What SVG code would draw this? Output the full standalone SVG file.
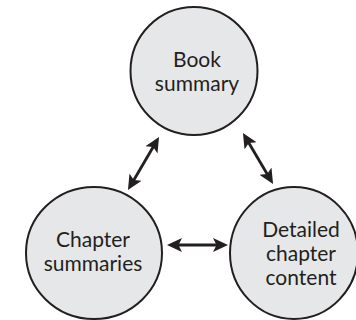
<svg xmlns="http://www.w3.org/2000/svg" width="356" height="320" viewBox="0 0 356 320">
  <style>
    .node { fill: #e6e7e8; stroke: #231f20; stroke-width: 2; }
    .label { font-family: "Lato", "Open Sans", "DejaVu Sans", sans-serif; font-size: 21px; fill: #231f20; text-anchor: middle; }
    .conn { stroke: #231f20; stroke-width: 2.8; fill: none; marker-start: url(#head); marker-end: url(#head); }
  </style>
  <defs>
    <marker id="head" markerUnits="userSpaceOnUse" markerWidth="15" markerHeight="15" refX="8" refY="7" orient="auto-start-reverse" viewBox="0 0 15 14">
      <path d="M0,0 L15,7 L0,14 L3.5,7 z" fill="#231f20"/>
    </marker>
  </defs>
  <rect width="356" height="320" fill="#ffffff"/>
  <g id="connectors">
    <line class="conn" x1="155.5" y1="143" x2="131.5" y2="184"/>
    <line class="conn" x1="246.5" y1="139" x2="269.5" y2="178"/>
    <line class="conn" x1="174" y1="245" x2="221" y2="245"/>
  </g>
  <g id="book-summary">
    <ellipse class="node" cx="194" cy="71" rx="63.5" ry="64"/>
    <text class="label" x="197" y="67">Book</text>
    <text class="label" x="197" y="91">summary</text>
  </g>
  <g id="chapter-summaries">
    <ellipse class="node" cx="94" cy="253" rx="68" ry="66"/>
    <text class="label" x="93" y="247">Chapter</text>
    <text class="label" x="93" y="271">summaries</text>
  </g>
  <g id="detailed-chapter-content">
    <ellipse class="node" cx="294" cy="253" rx="64" ry="66"/>
    <text class="label" x="301" y="237">Detailed</text>
    <text class="label" x="301" y="261">chapter</text>
    <text class="label" x="301" y="285">content</text>
  </g>
</svg>
